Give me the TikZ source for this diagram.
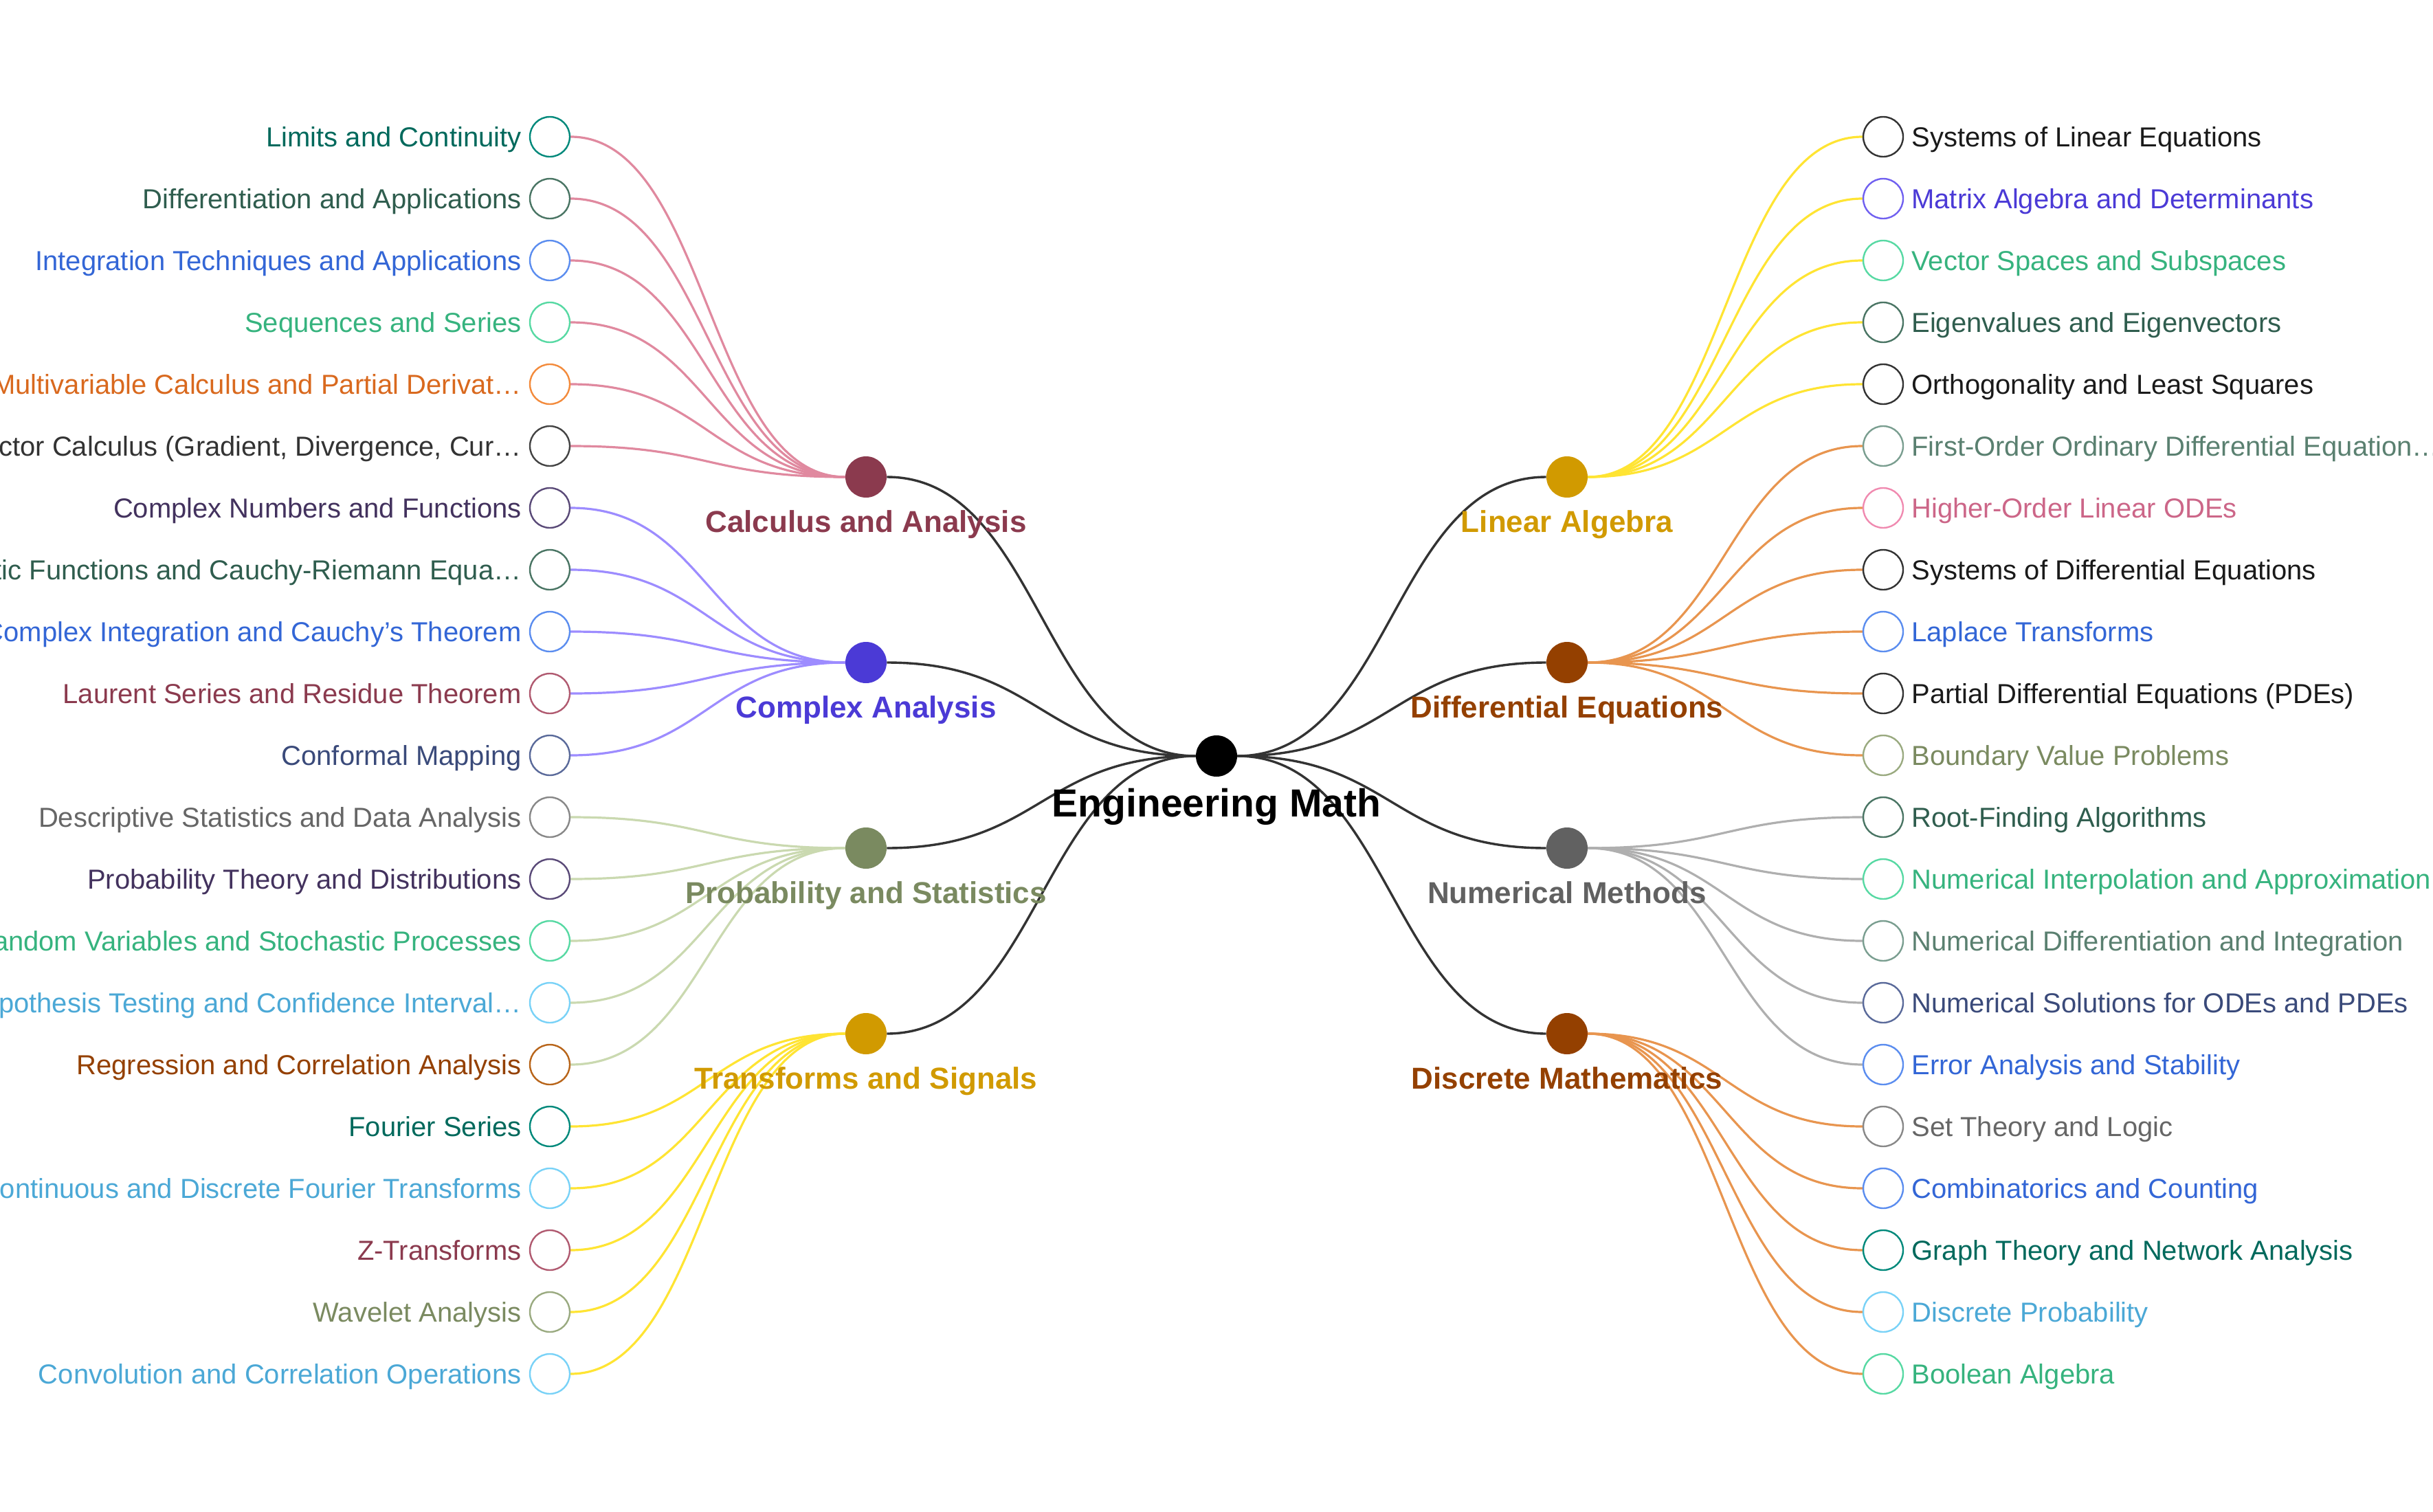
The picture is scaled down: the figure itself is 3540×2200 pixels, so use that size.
\documentclass[tikz,border=0pt]{standalone}
\usepackage{fontspec}
\setmainfont{Liberation Sans}
\pgfdeclarelayer{bg}
\pgfsetlayers{bg,main}
% branch colours
\definecolor{calN}{HTML}{8B3A4E}\definecolor{calL}{HTML}{E0899F}
\definecolor{cpxN}{HTML}{4B3AD6}\definecolor{cpxL}{HTML}{9D8CFF}
\definecolor{proN}{HTML}{7A8A60}\definecolor{proL}{HTML}{CAD9B0}
\definecolor{trfN}{HTML}{D19A00}\definecolor{trfL}{HTML}{FFE433}
\definecolor{linN}{HTML}{D19A00}\definecolor{linL}{HTML}{FFE433}
\definecolor{deqN}{HTML}{944000}\definecolor{deqL}{HTML}{E8954F}
\definecolor{numN}{HTML}{616161}\definecolor{numL}{HTML}{AFAFAF}
\definecolor{disN}{HTML}{944000}\definecolor{disL}{HTML}{E8954F}
\definecolor{rootL}{HTML}{333333}
% leaf palettes: T = text, C = circle
\definecolor{tealT}{HTML}{00695C}\definecolor{tealC}{HTML}{00897B}
\definecolor{dgreenT}{HTML}{2F5D4E}\definecolor{dgreenC}{HTML}{4A7564}
\definecolor{blueT}{HTML}{3366D6}\definecolor{blueC}{HTML}{5B8DEF}
\definecolor{greenT}{HTML}{36B37E}\definecolor{greenC}{HTML}{57D9A3}
\definecolor{orangeT}{HTML}{D9691E}\definecolor{orangeC}{HTML}{F38B3C}
\definecolor{darkT}{HTML}{333333}\definecolor{darkC}{HTML}{444444}
\definecolor{purpleT}{HTML}{43325E}\definecolor{purpleC}{HTML}{5A4A78}
\definecolor{roseT}{HTML}{8B3A4E}\definecolor{roseC}{HTML}{B05A70}
\definecolor{navyT}{HTML}{3A4A7A}\definecolor{navyC}{HTML}{5A6A9A}
\definecolor{grayT}{HTML}{666666}\definecolor{grayC}{HTML}{888888}
\definecolor{skyT}{HTML}{4BA8D6}\definecolor{skyC}{HTML}{79D2F7}
\definecolor{brownT}{HTML}{944000}\definecolor{brownC}{HTML}{B8651A}
\definecolor{oliveT}{HTML}{7A8A60}\definecolor{oliveC}{HTML}{9AAA80}
\definecolor{blackT}{HTML}{1A1A1A}\definecolor{blackC}{HTML}{333333}
\definecolor{violetT}{HTML}{4B3AD6}\definecolor{violetC}{HTML}{7060F0}
\definecolor{sageT}{HTML}{5A8070}\definecolor{sageC}{HTML}{7A9E90}
\definecolor{pinkT}{HTML}{CC6688}\definecolor{pinkC}{HTML}{F08AB0}
\begin{document}
\begin{tikzpicture}[x=0.5pt,y=-0.5pt,
  leaf/.style={circle, minimum size=29pt, inner sep=0pt, line width=1.2pt, fill=white},
  bdot/.style={circle, minimum size=30pt, inner sep=0pt},
  leaftext/.style={inner sep=0pt, font=\fontsize{20}{24}\selectfont},
  blabel/.style={inner sep=0pt, anchor=base, font=\bfseries\fontsize{22}{26}\selectfont},
  rootlabel/.style={inner sep=0pt, anchor=base, font=\bfseries\fontsize{28.5}{34}\selectfont},
  rlink/.style={line width=1.7pt, draw=rootL},
  link/.style={line width=1.6pt}]
\path[use as bounding box] (0,0) rectangle (3540,2200);
\clip (0,0) rectangle (3540,2200);

% root
\node[bdot, fill=black] (root) at (1770,1100) {};
\node[rootlabel] (rootlbl) at ([yshift=-44pt]root.center) {Engineering Math};

% branches
\foreach \n/\x/\y/\lbl in {
  cal/1260/694/Calculus and Analysis,
  cpx/1260/964/Complex Analysis,
  pro/1260/1234/Probability and Statistics,
  trf/1260/1504/Transforms and Signals,
  lin/2280/694/Linear Algebra,
  deq/2280/964/Differential Equations,
  num/2280/1234/Numerical Methods,
  dis/2280/1504/Discrete Mathematics}{
  \node[bdot, fill=\n N] (\n) at (\x,\y) {};
  \node[blabel, text=\n N] (\n lbl) at ([yshift=-40pt]\n.center) {\lbl};
  \begin{pgfonlayer}{bg}
    \draw[rlink] (root) .. controls ({(1770+\x)/2},1100) and ({(1770+\x)/2},\y) .. (\n);
  \end{pgfonlayer}
}

% left leaves
\foreach \i/\b/\by/\p/\t in {
  0/cal/694/teal/Limits and Continuity,
  1/cal/694/dgreen/Differentiation and Applications,
  2/cal/694/blue/Integration Techniques and Applications,
  3/cal/694/green/Sequences and Series,
  4/cal/694/orange/Multivariable Calculus and Partial Derivat…,
  5/cal/694/dark/{Vector Calculus (Gradient, Divergence, Cur…},
  6/cpx/964/purple/Complex Numbers and Functions,
  7/cpx/964/dgreen/Analytic Functions and Cauchy-Riemann Equa…,
  8/cpx/964/blue/Complex Integration and Cauchy’s Theorem,
  9/cpx/964/rose/Laurent Series and Residue Theorem,
  10/cpx/964/navy/Conformal Mapping,
  11/pro/1234/gray/Descriptive Statistics and Data Analysis,
  12/pro/1234/purple/Probability Theory and Distributions,
  13/pro/1234/green/Random Variables and Stochastic Processes,
  14/pro/1234/sky/Hypothesis Testing and Confidence Interval…,
  15/pro/1234/brown/Regression and Correlation Analysis,
  16/trf/1504/teal/Fourier Series,
  17/trf/1504/sky/Continuous and Discrete Fourier Transforms,
  18/trf/1504/rose/Z-Transforms,
  19/trf/1504/olive/Wavelet Analysis,
  20/trf/1504/sky/Convolution and Correlation Operations}{
  \node[leaf, draw=\p C] (L\i) at (800,{199+90*\i}) {};
  \node[leaftext, text=\p T, anchor=base east] (L\i t) at ([xshift=-20.5pt,yshift=-7pt]L\i.center) {\t};
  \begin{pgfonlayer}{bg}
    \draw[link, draw=\b L] (\b) .. controls (1030,\by) and (1030,{199+90*\i}) .. (L\i);
  \end{pgfonlayer}
}

% right leaves
\foreach \i/\b/\by/\p/\t in {
  0/lin/694/black/Systems of Linear Equations,
  1/lin/694/violet/Matrix Algebra and Determinants,
  2/lin/694/green/Vector Spaces and Subspaces,
  3/lin/694/dgreen/Eigenvalues and Eigenvectors,
  4/lin/694/black/Orthogonality and Least Squares,
  5/deq/964/sage/First-Order Ordinary Differential Equation…,
  6/deq/964/pink/Higher-Order Linear ODEs,
  7/deq/964/black/Systems of Differential Equations,
  8/deq/964/blue/Laplace Transforms,
  9/deq/964/black/Partial Differential Equations (PDEs),
  10/deq/964/olive/Boundary Value Problems,
  11/num/1234/dgreen/Root-Finding Algorithms,
  12/num/1234/green/Numerical Interpolation and Approximation,
  13/num/1234/sage/Numerical Differentiation and Integration,
  14/num/1234/navy/Numerical Solutions for ODEs and PDEs,
  15/num/1234/blue/Error Analysis and Stability,
  16/dis/1504/gray/Set Theory and Logic,
  17/dis/1504/blue/Combinatorics and Counting,
  18/dis/1504/teal/Graph Theory and Network Analysis,
  19/dis/1504/sky/Discrete Probability,
  20/dis/1504/green/Boolean Algebra}{
  \node[leaf, draw=\p C] (R\i) at (2740,{199+90*\i}) {};
  \node[leaftext, text=\p T, anchor=base west] (R\i t) at ([xshift=20.5pt,yshift=-7pt]R\i.center) {\t};
  \begin{pgfonlayer}{bg}
    \draw[link, draw=\b L] (\b) .. controls (2510,\by) and (2510,{199+90*\i}) .. (R\i);
  \end{pgfonlayer}
}
\end{tikzpicture}
\end{document}
